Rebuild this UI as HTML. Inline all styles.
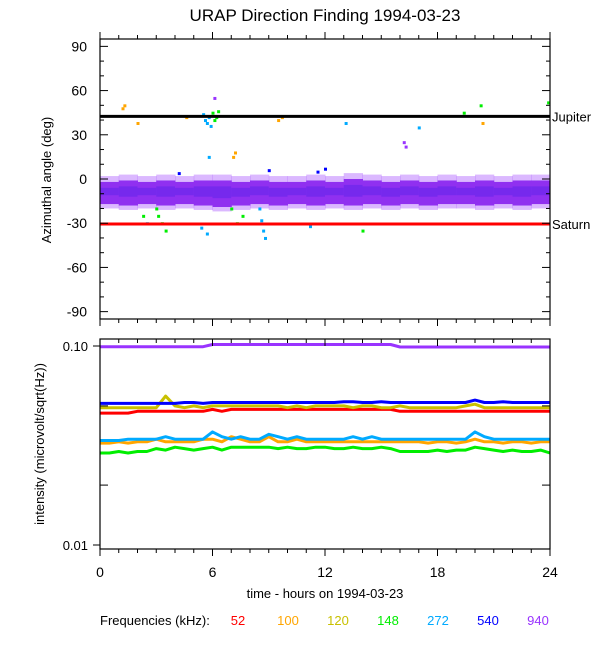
<!DOCTYPE html>
<html><head><meta charset="utf-8"><style>
body{margin:0;background:#fff}
svg text{font-family:"Liberation Sans",Arial,sans-serif}
</style></head><body>
<svg id="c" width="600" height="650" viewBox="0 0 600 650" xmlns="http://www.w3.org/2000/svg">
<text x="325" y="21" font-size="17" text-anchor="middle">URAP Direction Finding  1994-03-23</text>
<g id="top"></g>
<g id="bot"></g>
<text transform="translate(51,180) rotate(-90)" font-size="13" text-anchor="middle">Azimuthal angle (deg)</text>
<text transform="translate(44,444) rotate(-90)" font-size="13" text-anchor="middle">intensity (microvolt/sqrt(Hz))</text>
<text x="325" y="598" font-size="13" text-anchor="middle">time - hours on 1994-03-23</text>
<g id="legend"></g>
</svg>
<script>
const NS="http://www.w3.org/2000/svg";
const freqs=["52","100","120","148","272","540","940"];
const colors=["#ff0000","#ffa500","#c8c000","#00ee00","#00aaff","#0000ff","#9933ff"];
const xTicks=[0,6,12,18,24];
const azTicks=[90,60,30,0,-30,-60,-90];
const intTicks=["0.10","0.01"];
const jupiterDeg=42.5, saturnDeg=-30.5;
// cloud band per hour (lo, hi deg)
const cloudLo=[-17,-18,-17,-18,-17,-18,-19,-18,-17,-18,-17,-18,-17,-18,-17,-18,-17,-18,-17,-17,-18,-17,-18,-17];
const cloudHi=[-2,-1,-2,-1,-2,-1,-1,-2,-1,-2,-2,-1,-2,0,-1,-2,-1,-2,-1,-2,-1,-2,-1,-1];
// outlier points: time(h), deg, freq index
const outT=[1.2,1.3,2.0,3.0,3.1,3.3,3.5,4.6,5.5,5.6,5.7,5.8,5.9,6.0,6.1,6.2,6.3,6.1,5.8,7.0,7.3,7.6,8.5,8.6,8.7,8.8,9.5,9.7,11.2,13.1,14.0,16.2,16.3,17.0,19.4,20.3,20.4,23.9,2.3,2.5,7.1,7.2,5.4,5.7,12.0,11.6,4.2,9.0];
const outD=[48,50,38,-20,-25,-30,-35,42,44,40,38,42,36,45,40,42,46,55,15,-20,-30,-25,-20,-28,-35,-40,40,42,-32,38,-35,25,22,35,45,50,38,52,-25,-30,15,18,-33,-37,7,5,4,6];
const outF=[1,1,1,3,3,3,3,1,4,4,4,4,4,3,3,3,3,6,4,3,3,3,4,4,4,4,1,1,4,4,3,6,6,4,3,3,1,3,3,4,1,1,4,4,5,5,5,5];
// intensity series every half hour (49 points, 0..24 h)
const sRed=[.046,.046,.046,.046,.047,.047,.047,.047,.047,.047,.047,.047,.048,.047,.048,.048,.048,.048,.048,.048,.048,.048,.048,.048,.048,.048,.048,.048,.048,.048,.048,.048,.047,.047,.047,.047,.047,.047,.047,.047,.047,.047,.047,.047,.047,.047,.047,.047,.047];
const sOrange=[.0325,.0325,.033,.0325,.033,.033,.034,.033,.033,.033,.033,.034,.034,.033,.035,.034,.033,.033,.035,.033,.033,.034,.033,.033,.033,.033,.033,.033,.033,.033,.033,.033,.033,.033,.033,.0325,.033,.033,.0325,.033,.034,.033,.033,.0325,.033,.033,.0325,.033,.033];
const sYellow=[.049,.049,.049,.049,.049,.049,.049,.056,.05,.049,.05,.049,.05,.05,.05,.05,.05,.05,.05,.05,.049,.05,.049,.05,.05,.05,.05,.049,.05,.05,.049,.049,.05,.049,.049,.049,.049,.049,.049,.05,.051,.049,.049,.049,.049,.049,.049,.049,.049];
const sGreen=[.029,.029,.0295,.029,.0295,.0295,.0305,.03,.031,.0305,.03,.0305,.031,.03,.031,.031,.031,.031,.031,.0305,.031,.0305,.0305,.031,.031,.0305,.0305,.031,.0305,.0305,.031,.0305,.0295,.0295,.0295,.0295,.03,.0295,.03,.03,.031,.0305,.03,.0295,.03,.0295,.0295,.03,.029];
const sCyan=[.0335,.0335,.0335,.034,.034,.034,.034,.035,.034,.034,.034,.034,.037,.035,.034,.035,.034,.034,.036,.035,.034,.035,.034,.034,.034,.034,.034,.035,.034,.035,.034,.034,.034,.034,.034,.034,.034,.034,.034,.034,.037,.035,.034,.034,.034,.034,.034,.034,.034];
const sBlue=[.0515,.0515,.0515,.0515,.0515,.0515,.0515,.0515,.0515,.052,.052,.0515,.052,.052,.052,.052,.052,.052,.052,.052,.052,.052,.052,.052,.052,.052,.0525,.0525,.052,.052,.0525,.052,.052,.052,.052,.052,.052,.052,.052,.052,.0535,.052,.052,.0525,.052,.052,.052,.052,.052];
const sPurple=[.0992,.0992,.0992,.0992,.0992,.0992,.0992,.0992,.0992,.0992,.0992,.0992,.1017,.1017,.1017,.1017,.1017,.1017,.1017,.1017,.1017,.1017,.1017,.1017,.1017,.1017,.1017,.1017,.1017,.1017,.1017,.1017,.0988,.0988,.0988,.0988,.0988,.0988,.0988,.0988,.0988,.0988,.0988,.0988,.0988,.0988,.0988,.0988,.0988];
const series=[sRed,sOrange,sYellow,sGreen,sCyan,sBlue,sPurple];

const L=100,R=550,T1=39,B1=319,T2=339,B2=549;
const x=h=>L+(R-L)*h/24;
const yA=d=>T1+(B1-T1)*(95-d)/190;
const lmax=Math.log10(0.1)+7/199, lmin=-2-4/199;
const yI=v=>T2+(B2-T2)*(lmax-Math.log10(v))/(lmax-lmin);
function el(p,tag,a){const e=document.createElementNS(NS,tag);for(const k in a)e.setAttribute(k,a[k]);p.appendChild(e);return e;}
const gTop=document.getElementById('top'), gBot=document.getElementById('bot');

cloudLo.forEach((lo,i)=>{
  const o=el(gTop,'rect',{x:x(i),y:yA(cloudHi[i]+4),width:x(1)-x(0)+0.5,height:yA(lo-3)-yA(cloudHi[i]+4),fill:'#9933ff',opacity:0.35});
  
  
  const r=el(gTop,'rect',{x:x(i),y:yA(cloudHi[i]),width:x(1)-x(0)+0.5,height:yA(lo)-yA(cloudHi[i]),fill:'#9030f0'});
  
  
  const b=el(gTop,'rect',{x:x(i),y:yA(cloudHi[i]-4),width:x(1)-x(0)+0.5,height:yA(lo+6)-yA(cloudHi[i]-4),fill:'#3a1ae8',opacity:0.3});
  
  
});
outT.forEach((t,i)=>{
  const r=el(gTop,'rect',{x:x(t)-1,y:yA(outD[i])-1,width:3,height:3,fill:colors[outF[i]]});
  
  
});
const jl=el(gTop,'line',{x1:L,x2:R,y1:yA(jupiterDeg),y2:yA(jupiterDeg),stroke:'#000','stroke-width':3});


const sl=el(gTop,'line',{x1:L,x2:R,y1:yA(saturnDeg),y2:yA(saturnDeg),stroke:'#ff0000','stroke-width':3});


let lab=el(gTop,'text',{x:552,y:yA(jupiterDeg)+5,'font-size':13});lab.textContent='Jupiter';


lab=el(gTop,'text',{x:552,y:yA(saturnDeg)+5,'font-size':13});lab.textContent='Saturn';



series.forEach((s,k)=>{
  const pts=s.map((v,i)=>x(i*0.5).toFixed(1)+','+yI(v).toFixed(1)).join(' ');
  const p=el(gBot,'polyline',{points:pts,fill:'none',stroke:colors[k],'stroke-width':3,'stroke-linejoin':'round'});
  
  
});

function frame(g,T,B,topDir){
  el(g,'rect',{x:L,y:T,width:R-L,height:B-T,fill:'none',stroke:'#000','stroke-width':1.2});
  for(let h=0;h<=24;h++){
    const len=h%6===0?7:4;
    el(g,'line',{x1:x(h),x2:x(h),y1:T,y2:T+topDir*len,stroke:'#000'});
    el(g,'line',{x1:x(h),x2:x(h),y1:B,y2:B+len,stroke:'#000'});
  }
}
frame(gTop,T1,B1,-1);frame(gBot,T2,B2,1);
for(let d=-90;d<=90;d+=10){
  const len=d%30===0?8:4;
  el(gTop,'line',{x1:L,x2:L+len,y1:yA(d),y2:yA(d),stroke:'#000'});
  el(gTop,'line',{x1:R,x2:R-len,y1:yA(d),y2:yA(d),stroke:'#000'});
}
azTicks.forEach(d=>{
  const tx=el(gTop,'text',{x:87,y:yA(d)+5,'font-size':14,'text-anchor':'end'});tx.textContent=d;
  
  
});
[0.02,0.05].forEach(v=>{
  el(gBot,'line',{x1:L,x2:L+8,y1:yI(v),y2:yI(v),stroke:'#000'});
  el(gBot,'line',{x1:R,x2:R-8,y1:yI(v),y2:yI(v),stroke:'#000'});
});
intTicks.forEach(s=>{
  const v=parseFloat(s);
  el(gBot,'line',{x1:L,x2:L-7,y1:yI(v),y2:yI(v),stroke:'#000'});
  const tx=el(gBot,'text',{x:88,y:yI(v)+5,'font-size':13,'text-anchor':'end'});tx.textContent=s;
  
  
});
xTicks.forEach(h=>{
  const tx=el(gBot,'text',{x:x(h),y:577,'font-size':14,'text-anchor':'middle'});tx.textContent=h;
  
  
});
const lg=document.getElementById('legend');
const lt=el(lg,'text',{x:100,y:625,'font-size':13});lt.textContent='Frequencies (kHz):';


freqs.forEach((f,k)=>{
  const e=el(lg,'text',{x:238+k*50,y:625,'font-size':13,'text-anchor':'middle',fill:colors[k]});e.textContent=f;
  
  
});
</script>
</body></html>
